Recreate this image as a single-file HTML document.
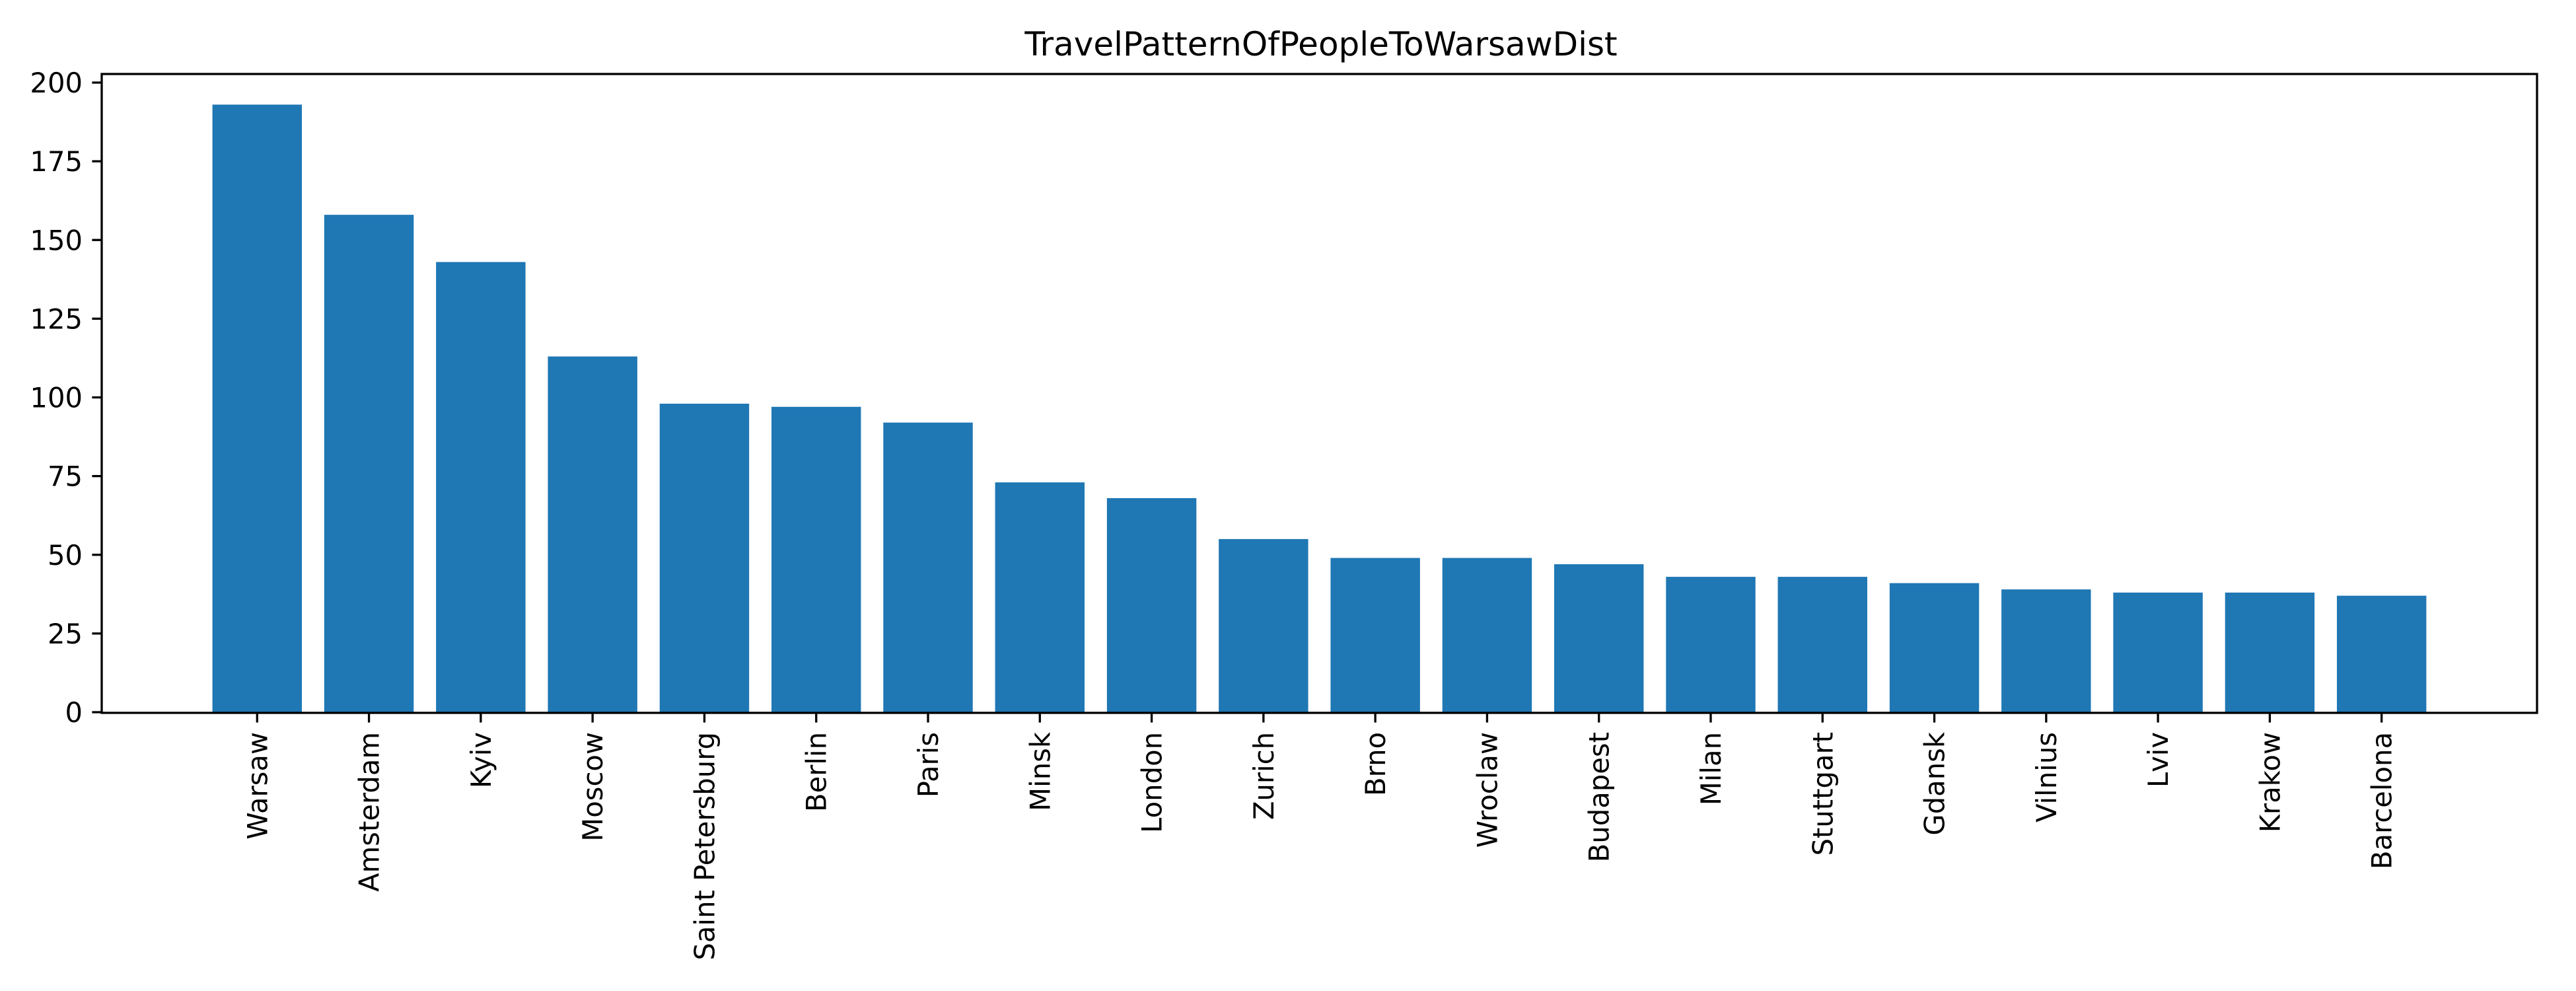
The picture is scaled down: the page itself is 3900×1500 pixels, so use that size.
<!DOCTYPE html>
<html><head><meta charset="utf-8"><style>body{margin:0;background:#fff}svg{display:block}</style></head>
<body>
<svg id="chart" width="3900" height="1500" xmlns="http://www.w3.org/2000/svg" font-family="'DejaVu Sans','Liberation Sans',sans-serif">
<rect width="3900" height="1500" fill="#fff"/>
<text x="2000" y="84" font-size="50" text-anchor="middle">TravelPatternOfPeopleToWarsawDist</text>
<g id="bars"></g><g id="axes"></g>
</svg>
<script>
const categories = ["Warsaw","Amsterdam","Kyiv","Moscow","Saint Petersburg","Berlin","Paris","Minsk","London","Zurich","Brno","Wroclaw","Budapest","Milan","Stuttgart","Gdansk","Vilnius","Lviv","Krakow","Barcelona"];
const values = [193,158,143,113,98,97,92,73,68,55,49,49,47,43,43,41,39,38,38,37];
const yTicks = [0,25,50,75,100,125,150,175,200];

const NS="http://www.w3.org/2000/svg";
const L=154,R=3841,T=112,B=1079;
const xmin=-1.39,xmax=categories.length-1+1.39;
const x=v=>L+(v-xmin)/(xmax-xmin)*(R-L);
const y0=1078,pu=4.765;
const y=v=>y0-v*pu;
const bw=0.8*(R-L)/(xmax-xmin);
function mk(tag,attrs,parent){const e=document.createElementNS(NS,tag);for(const k in attrs)e.setAttribute(k,attrs[k]);parent.appendChild(e);return e;}
const bars=document.getElementById('bars'),axes=document.getElementById('axes');
values.forEach((v,i)=>{
  const r=mk('rect',{x:x(i)-bw/2,y:y(v),width:bw,height:y(0)-y(v),fill:'#1f77b4'},bars);
  
  
});
const frame=mk('rect',{x:L,y:T,width:R-L,height:B-T,fill:'none',stroke:'#000','stroke-width':3.3},axes);


yTicks.forEach(t=>{
  const ln=mk('line',{x1:L-14.6,x2:L,y1:y(t),y2:y(t),stroke:'#000','stroke-width':3.3},axes);
  
  
  const tx=mk('text',{x:L-29,y:y(t)+15,'font-size':41.7,'text-anchor':'end'},axes);
  tx.textContent=t;
  
  
});
categories.forEach((c,i)=>{
  const ln=mk('line',{x1:x(i),x2:x(i),y1:B,y2:B+14.6,stroke:'#000','stroke-width':3.3},axes);
  
  
  const tx=mk('text',{x:0,y:0,'font-size':41.7,'text-anchor':'end',transform:`translate(${x(i)+15},${B+29}) rotate(-90)`},axes);
  tx.textContent=c;
  
  
});
</script>
</body></html>
